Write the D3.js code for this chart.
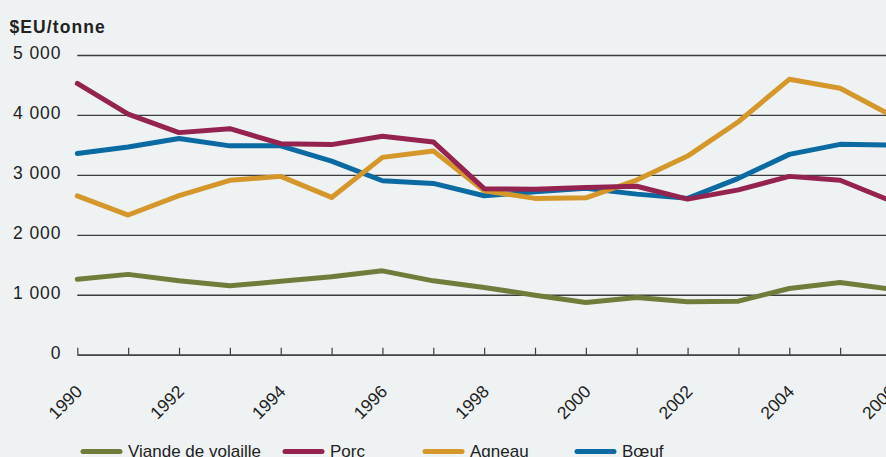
<html>
  <head>
    <style>
      body { margin: 0; background: #eef2f3; }
      svg { display: block; font-family: "Liberation Sans", Arial, sans-serif; }
    </style>
  </head>
  <body>
    <svg id="container" width="886" height="457"></svg>
  </body>
  <script src="https://cdn.jsdelivr.net/npm/d3@7"></script>
  <script>
    // data
    let years = d3.range(1990, 2007);
    let volaille = [1260, 1340, 1232, 1149, 1225, 1299, 1399, 1232, 1122, 993, 871, 955, 882, 893, 1105, 1205, 1094];
    let porc = [4525, 4012, 3705, 3770, 3520, 3505, 3645, 3550, 2770, 2760, 2790, 2810, 2596, 2750, 2975, 2910, 2565];
    let agneau = [2650, 2330, 2655, 2910, 2975, 2624, 3292, 3400, 2735, 2608, 2618, 2913, 3314, 3887, 4594, 4444, 3995];
    let boeuf = [3358, 3466, 3608, 3484, 3484, 3230, 2902, 2858, 2651, 2718, 2775, 2679, 2608, 2942, 3342, 3509, 3497];
    let yTicks = [0, 1000, 2000, 3000, 4000, 5000];
    let unitLabel = "$EU/tonne";

    let series = [
      { name: "Viande de volaille", values: volaille, color: "#6f7d3a", legendX: 81 },
      { name: "Porc", values: porc, color: "#94234f", legendX: 283 },
      { name: "Agneau", values: agneau, color: "#d5972a", legendX: 423 },
      { name: "Bœuf", values: boeuf, color: "#0a6aa1", legendX: 575 }
    ];
    // drawing order: poultry, beef, lamb, pork on top
    let drawOrder = [0, 3, 2, 1];

    let svg = d3.select("#container");
    let fmt = d => d3.format(",")(d).replace(/,/g, " ");

    let xScale = d3.scaleLinear().domain([1990, 2006]).range([77.3, 891]);
    let yScale = d3.scaleLinear().domain([0, 5000]).range([354.7, 55]);

    // gridlines + y labels
    let yAxis = svg.append("g")
      .attr("transform", "translate(77.3,0)")
      .call(d3.axisLeft(yScale).tickValues(yTicks).tickFormat(fmt).tickSize(-900).tickPadding(16));
    yAxis.select(".domain").remove();
    yAxis.selectAll("line").attr("stroke", "#3c3c3c").attr("stroke-width", 1.3);
    yAxis.selectAll("text")
      .attr("font-size", 17.5).attr("fill", "#222").attr("dy", "0.2em")
      .attr("font-family", "Liberation Sans, Arial, sans-serif")
      .attr("letter-spacing", 0.9);

    // x axis with upward ticks
    let xAxis = svg.append("g")
      .attr("transform", "translate(0,354.7)")
      .call(d3.axisBottom(xScale).tickValues(years).tickSize(-7).tickSizeOuter(0).tickFormat(""));
    xAxis.select(".domain").attr("stroke", "#3c3c3c").attr("stroke-width", 1.3);
    xAxis.selectAll("line").attr("stroke", "#3c3c3c").attr("stroke-width", 1.2);

    svg.append("g").selectAll("text")
      .data(years.filter(y => y % 2 == 0))
      .join("text")
      .attr("transform", d => "translate(" + (xScale(d) + 6) + "," + (354.7 + 38) + ") rotate(-45)")
      .attr("text-anchor", "end")
      .attr("font-size", 17.5)
      .attr("fill", "#222")
      .text(d => d);

    // lines
    let line = d3.line()
      .x((d, i) => xScale(years[i]))
      .y(d => yScale(d));
    svg.append("g").selectAll("path")
      .data(drawOrder.map(i => series[i]))
      .join("path")
      .attr("d", d => line(d.values))
      .attr("fill", "none")
      .attr("stroke", d => d.color)
      .attr("stroke-width", 5)
      .attr("stroke-linejoin", "round")
      .attr("stroke-linecap", "round");

    // title
    svg.append("text")
      .attr("x", 9.5).attr("y", 33)
      .attr("font-size", 17.5).attr("font-weight", "bold")
      .attr("letter-spacing", 1.1)
      .attr("fill", "#222")
      .text(unitLabel);

    // legend
    let legend = svg.append("g").selectAll("g")
      .data(series)
      .join("g")
      .attr("transform", d => "translate(" + d.legendX + ",0)");
    legend.append("line")
      .attr("x1", 2).attr("x2", 39).attr("y1", 451.5).attr("y2", 451.5)
      .attr("stroke", d => d.color).attr("stroke-width", 5).attr("stroke-linecap", "round");
    legend.append("text")
      .attr("x", 47).attr("y", 456.5)
      .attr("font-size", 17).attr("fill", "#222")
      .text(d => d.name);
  </script>
</html>
